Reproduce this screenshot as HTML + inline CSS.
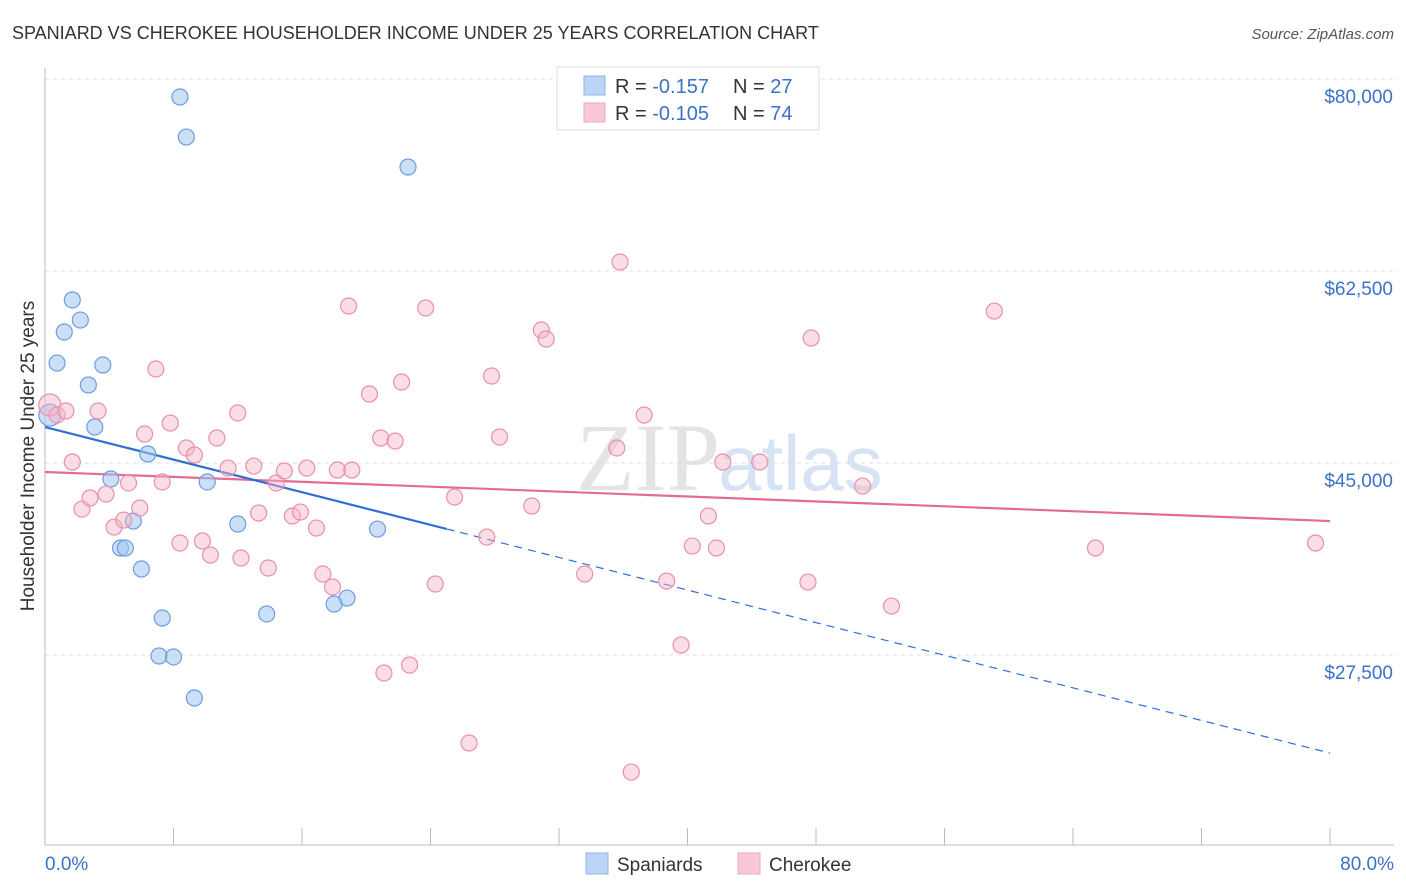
<!DOCTYPE html>
<html><head><meta charset="utf-8"><style>
body{margin:0;background:#fff;font-family:"Liberation Sans",sans-serif;}
svg{display:block}
</style></head><body>
<svg id="c" width="1406" height="892" xmlns="http://www.w3.org/2000/svg">
<text x="12" y="39" font-size="18" fill="#333">SPANIARD VS CHEROKEE HOUSEHOLDER INCOME UNDER 25 YEARS CORRELATION CHART</text>
<text x="1394" y="39" font-size="15" fill="#555" font-style="italic" text-anchor="end">Source: ZipAtlas.com</text>
<text x="720" y="490" font-size="96" fill="#e4e4e4" text-anchor="end" font-family="Liberation Serif,serif">ZIP</text>
<text x="718" y="490" font-size="78" fill="#d6e3f3">atlas</text>
<g id="grid"></g><g id="axes"></g><g id="lines"></g><g id="pts"></g>
<text transform="translate(34,456) rotate(-90)" font-size="19" fill="#333" text-anchor="middle">Householder Income Under 25 years</text>
<text x="45" y="870" font-size="19" fill="#3a72c8">0.0%</text>
<text x="1394" y="870" font-size="19" fill="#3a72c8" text-anchor="end">80.0%</text>
<g>
<rect x="557" y="67" width="262" height="63" fill="#fff" stroke="#ddd"/>
<rect x="584" y="76" width="21" height="19" fill="#bcd4f6" stroke="#8fb3e8"/>
<rect x="584" y="103" width="21" height="19" fill="#f9c8d6" stroke="#eeaabe"/>
<text x="615" y="93" font-size="20" fill="#333">R = <tspan fill="#3a72c8">-0.157</tspan><tspan x="733">N = </tspan><tspan fill="#3a72c8">27</tspan></text>
<text x="615" y="120" font-size="20" fill="#333">R = <tspan fill="#3a72c8">-0.105</tspan><tspan x="733">N = </tspan><tspan fill="#3a72c8">74</tspan></text>
</g>
<g>
<rect x="586" y="853" width="22" height="21" fill="#bcd4f6" stroke="#8fb3e8"/>
<text x="617" y="871" font-size="19" fill="#333">Spaniards</text>
<rect x="738" y="853" width="22" height="21" fill="#f9c8d6" stroke="#eeaabe"/>
<text x="769" y="871" font-size="19" fill="#333">Cherokee</text>
</g>
</svg>
<script>
const yTicks=[80000,62500,45000,27500];
const yTickLabels=["$80,000","$62,500","$45,000","$27,500"];
const xTicks=[0,8,16,24,32,40,48,56,64,72,80];
const blueX=[8.4,8.8,22.6,1.7,2.2,1.2,0.75,3.6,2.7,0.3,3.1,6.4,4.1,10.1,5.5,12.0,20.7,4.7,5.0,6.0,7.3,13.8,18.8,18.0,7.1,8.0,9.3];
const blueY=[78360,74710,71980,59860,58030,56940,54110,53930,52110,49370,48280,45820,43540,43270,39710,39440,38980,37250,37250,35340,30870,31240,32690,32150,27410,27320,23580];
const pinkX=[0.3,0.75,1.3,3.3,1.7,2.3,2.8,3.8,4.3,4.9,5.2,5.9,6.2,6.9,7.3,7.8,8.4,8.8,9.3,9.8,10.3,10.7,11.4,12.0,12.2,13.0,13.3,13.9,14.4,14.9,15.4,15.9,16.3,16.9,17.3,17.9,18.2,18.9,19.1,20.2,20.9,21.1,21.8,22.2,22.7,23.7,24.3,25.5,26.4,27.5,27.8,28.3,30.3,30.9,31.2,33.6,35.6,35.8,36.5,37.3,38.7,39.6,40.3,41.3,41.8,42.2,44.5,47.5,47.7,50.9,52.7,59.1,65.4,79.1];
const pinkY=[50290,49370,49740,49740,45090,40800,41810,42170,39160,39800,43180,40900,47640,53570,43270,48640,37710,46370,45730,37890,36610,47280,44540,49560,36340,44720,40440,35430,43180,44270,40170,40530,44540,39070,34880,33700,44360,59310,44360,51290,47280,25860,47000,52380,26590,59130,33970,41900,19480,38250,52930,47370,41080,57120,56300,34880,46370,63320,16830,49370,34240,28410,37430,40170,37250,45090,45090,34150,56390,42900,31960,58850,37250,37710];
const blueTrend=[48280,18560];
const pinkTrend=[44180,39710];
const NS="http://www.w3.org/2000/svg";
const X=v=>45+v/80*1285;
const Y=v=>79+(80000-v)*192/17500;
function mk(p,t,a){const e=document.createElementNS(NS,t);for(const k in a)e.setAttribute(k,a[k]);p.appendChild(e);return e;}
const grid=document.getElementById('grid'),axes=document.getElementById('axes'),lines=document.getElementById('lines'),pts=document.getElementById('pts');
yTicks.forEach((v,i)=>{
 const l=mk(grid,'line',{x1:45,x2:1394,y1:Y(v),y2:Y(v),stroke:'#ddd','stroke-dasharray':'4,4'});
 
 
 const t=mk(grid,'text',{x:1393,y:Y(v)+24,'font-size':19,fill:'#3a72c8','text-anchor':'end'});
 t.textContent=yTickLabels[i];
 
 
});
const ax=mk(axes,'line',{x1:45,x2:1394,y1:845,y2:845,stroke:'#bbb'});


const ay=mk(axes,'line',{x1:45,x2:45,y1:68,y2:845,stroke:'#bbb'});


xTicks.forEach(v=>{
 const t=mk(axes,'line',{x1:X(v),x2:X(v),y1:828,y2:845,stroke:'#bbb'});
 
 
});
function tl(tr,col,solidTo,name){
 const f=v=>tr[0]+(tr[1]-tr[0])*v/80;
 const a=mk(lines,'line',{x1:X(0),y1:Y(f(0)),x2:X(solidTo),y2:Y(f(solidTo)),stroke:col,'stroke-width':2.2});
 
 
 if(solidTo<80){const b=mk(lines,'line',{x1:X(solidTo),y1:Y(f(solidTo)),x2:X(80),y2:Y(f(80)),stroke:col,'stroke-width':1.2,'stroke-dasharray':'8,6'});
 
 }
}
function dots(xs,ys,fill,stroke,name,big){
 xs.forEach((x,i)=>{
  const r=(i===big)?11:8;
  const c=mk(pts,'circle',{cx:X(x),cy:Y(ys[i]),r:r,fill:fill,stroke:stroke,'stroke-width':1.2});
  
  
 });
}
dots(blueX,blueY,'rgba(160,196,240,0.55)','#6d9de0','spaniard-point',9);
dots(pinkX,pinkY,'rgba(246,180,200,0.45)','#e890ab','cherokee-point',0);
tl(pinkTrend,'#e46b93',80,'cherokee-trend');
tl(blueTrend,'#2f6fd6',25,'spaniard-trend');
</script>
</body></html>
